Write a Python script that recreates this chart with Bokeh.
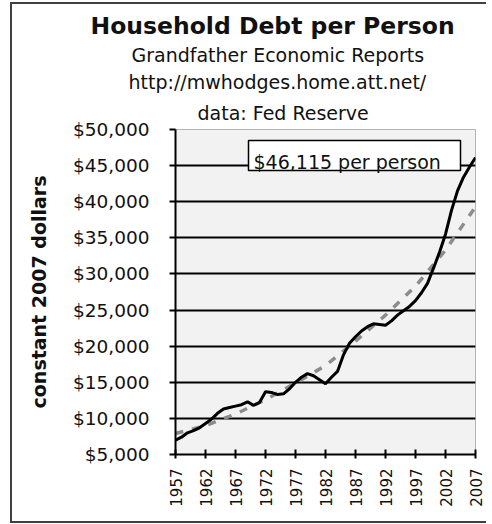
from bokeh.plotting import figure
from bokeh.models import FixedTicker, NumeralTickFormatter, Range1d, Title
from bokeh.embed import file_html
from bokeh.resources import INLINE
from bokeh.core.properties import value

# ---------------- data ----------------
years = list(range(1957, 2008))
debt = [7000, 7400, 8000, 8300, 8700, 9300, 9900, 10700, 11300, 11500,
        11700, 11900, 12300, 11800, 12200, 13700, 13600, 13300, 13400, 14100,
        15000, 15700, 16200, 15900, 15350, 14800, 15700, 16500, 18800, 20400,
        21300, 22100, 22700, 23100, 23000, 22900, 23500, 24300, 24900, 25500,
        26300, 27400, 28700, 30800, 33000, 35500, 38800, 41500, 43400, 44800, 46115]

trend_years = [1957, 1962, 1967, 1972, 1977, 1982, 1987, 1992, 1997, 2002, 2007]
trend = [7900, 9000, 10600, 12600, 14900, 17300, 20700, 24300, 28300, 33300, 39300]

x_ticks = [1957, 1962, 1967, 1972, 1977, 1982, 1987, 1992, 1997, 2002, 2007]
y_ticks = [5000, 10000, 15000, 20000, 25000, 30000, 35000, 40000, 45000, 50000]
grid_ticks = [10000, 15000, 20000, 25000, 30000, 35000, 40000, 45000]

title = "Household Debt per Person"
subtitles = ["Grandfather Economic Reports", "http://mwhodges.home.att.net/", "data: Fed Reserve"]
y_label = "constant 2007 dollars"
note = "$46,115 per person"

X0, X1 = 1957, 2007
Y0, Y1 = 5000, 50000

# frame placement in the picture (pixels); canvas starts at (0, 0)
FL, FR, FT, FB = 175, 475, 129, 454
CX, CY = 0, 0
W, H = 486, 524


def xd(px):
    return X0 + (px - FL) * (X1 - X0) / (FR - FL)


def yd(py):
    return Y0 + (FB - py) * (Y1 - Y0) / (FB - FT)


p = figure(width=W, height=H, x_range=Range1d(X0, X1), y_range=Range1d(Y0, Y1),
           output_backend="svg", toolbar_location=None,
           min_border_left=FL - CX, min_border_right=W - (FR - CX),
           min_border_top=FT - CY, min_border_bottom=H - (FB - CY))
# outer chart border (left, top, bottom) drawn by CSS inset shadows, no layout effect
p.styles = {"box-shadow": "inset 10px 0 0 0 white, inset 0 2px 0 0 white, "
                          "inset 0 -1px 0 0 white, "
                          "inset 12px 0 0 0 #404040, inset 0 4px 0 0 #404040, "
                          "inset 0 -3px 0 0 #404040"}

p.background_fill_color = "#f2f2f2"
p.border_fill_color = None
p.outline_line_color = "#b4b4b4"
p.outline_line_width = 1

# titles
p.title.text = title
p.title.text_font = "DejaVu Sans"
p.title.text_font_style = "bold"
p.title.text_font_size = "23.5px"
p.title.text_color = "#111111"
p.title.align = "left"
p.title.offset = 90 - FL
p.title.standoff = 2

sub_left = [131, 128, 197]
sub_standoff = [3, 3, 11]
for t, sl, so in reversed(list(zip(subtitles, sub_left, sub_standoff))):
    p.add_layout(Title(text=t, text_font="DejaVu Sans", text_font_style="normal",
                       text_font_size="19px", text_color="#111111",
                       align="left", offset=sl - FL, standoff=so), "above")

# grid
p.xgrid.visible = False
p.ygrid.ticker = FixedTicker(ticks=grid_ticks)
p.ygrid.grid_line_color = "black"
p.ygrid.grid_line_width = 2

# axes
p.yaxis.ticker = FixedTicker(ticks=y_ticks)
p.yaxis.formatter = NumeralTickFormatter(format="$0,0")
p.yaxis.axis_line_width = 2
p.yaxis.major_tick_line_width = 2
p.yaxis.major_tick_out = 6
p.yaxis.major_tick_in = 0
p.yaxis.minor_tick_line_color = None
p.yaxis.major_label_standoff = 20
p.yaxis.major_label_text_font = "DejaVu Sans"
p.yaxis.major_label_text_font_size = "18.5px"
p.yaxis.major_label_text_color = "#111111"
p.yaxis.axis_label = y_label
p.yaxis.axis_label_text_font = "DejaVu Sans"
p.yaxis.axis_label_text_font_style = "bold"
p.yaxis.axis_label_text_font_size = "19px"
p.yaxis.axis_label_text_color = "#111111"
p.yaxis.axis_label_standoff = 20

p.xaxis.ticker = FixedTicker(ticks=x_ticks)
p.xaxis.axis_line_width = 2
p.xaxis.major_tick_line_width = 2
p.xaxis.major_tick_out = 4
p.xaxis.major_tick_in = 5
p.xaxis.minor_tick_line_color = None
p.xaxis.major_label_orientation = 3.14159265 / 2
p.xaxis.major_label_standoff = 10
p.xaxis.major_label_text_font = "DejaVu Sans"
p.xaxis.major_label_text_font_size = "15px"
p.xaxis.major_label_text_color = "#111111"

# series
p.line(trend_years, trend, line_color="#8c8c8c", line_width=3.5, line_dash="8 9")
p.line(years, debt, line_color="black", line_width=3)

# annotation box with text (drawn above the grid)
p.quad(left=[xd(248)], right=[xd(460)], top=[yd(140)], bottom=[yd(170)],
       fill_color="white", line_color="black", line_width=1.5, level="overlay")
p.text(x=[xd(253)], y=[yd(161.5)], text=[note], text_font=value("DejaVu Sans"),
       text_font_size="19px", text_color="#111111", text_align="left",
       text_baseline="alphabetic", level="overlay")

open("out.html", "w").write(file_html(p, INLINE))
